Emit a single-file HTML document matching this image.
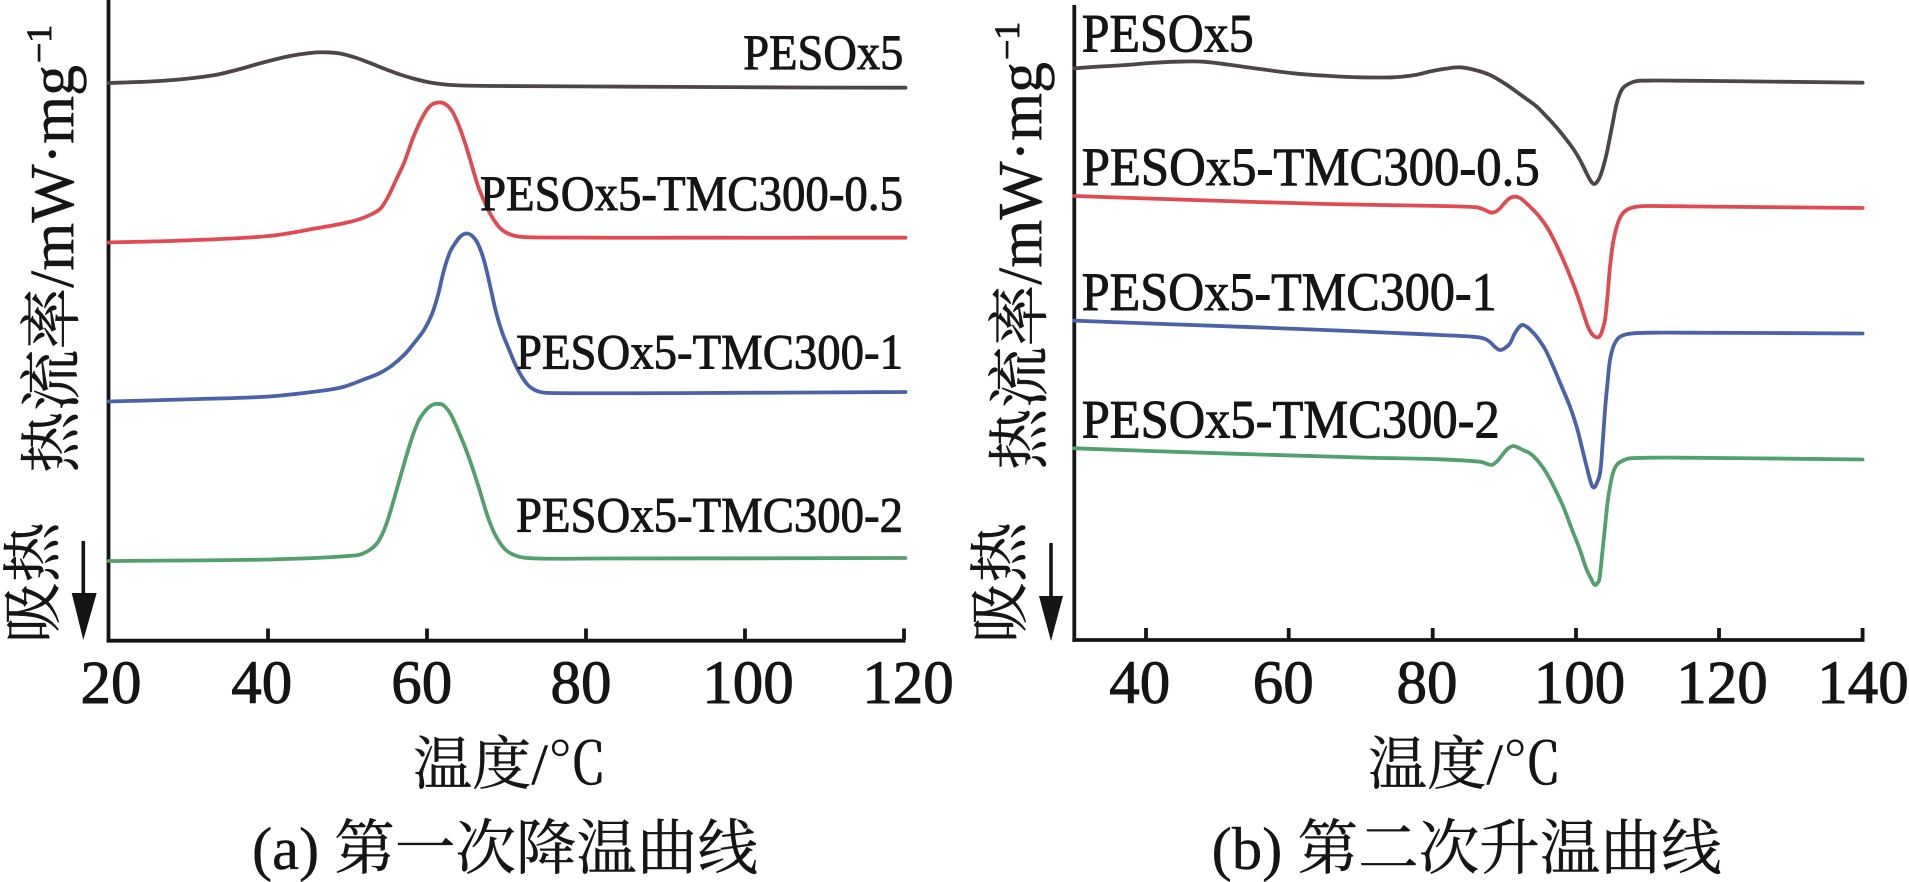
<!DOCTYPE html>
<html>
<head>
<meta charset="utf-8">
<style>
  html, body { margin:0; padding:0; background:#ffffff; }
  body { width:1909px; height:882px; overflow:hidden; }
  svg { display:block; }
  .lat { font-family: "Liberation Serif", "Noto Serif CJK SC", serif; fill:#151515; stroke:#151515; stroke-width:0.9; }
  .cjk { font-family: "Liberation Serif", "Noto Serif CJK SC", serif; fill:#151515; stroke:#151515; stroke-width:0.4; }
  .c { fill:none; stroke-width:3.8; stroke-linejoin:round; stroke-linecap:round; }
</style>
</head>
<body>
<svg id="fig" width="1909" height="882" viewBox="0 0 1909 882" xmlns="http://www.w3.org/2000/svg">
  <rect x="0" y="0" width="1909" height="882" fill="#ffffff"/>

  <!-- ================= LEFT PLOT (a) ================= -->
  <g stroke="#151515" stroke-width="3.8" fill="none">
    <line x1="108.5" y1="0" x2="108.5" y2="642.5"/>
    <line x1="106.6" y1="640.7" x2="905.5" y2="640.7"/>
    <line x1="268" y1="628.5" x2="268" y2="640"/>
    <line x1="427" y1="628.5" x2="427" y2="640"/>
    <line x1="586" y1="628.5" x2="586" y2="640"/>
    <line x1="745" y1="628.5" x2="745" y2="640"/>
    <line x1="904" y1="628.5" x2="904" y2="640"/>
  </g>

  <polyline class="c" stroke="#4d4646" points="108.5,83 150,81.5 184,79 215,75 240,69 265,62 290,56 310,53 325,52.3 340,53.5 355,57.5 370,63 385,69 400,74.5 415,79 430,82.5 445,84.5 463,85.5 500,86 600,86.5 700,87 800,87.5 905.5,87.7"/>
  <polyline class="c" stroke="#e04a50" points="108.5,242.5 184,240.5 269,236 318,228 345,223 360,219 372,214 381,208 389,195 396,180 404,163 413,138 422,118 430,106 438,102.5 445,104 452,111 459,126 466,146 472,166 478,186 485,203 492,217 500,228 508,233.5 518,236.5 540,237.5 700,237.7 905.5,237.7"/>
  <polyline class="c" stroke="#4a63a8" points="108.5,401.5 200,399 269,396.5 320,391 343,387 365,379 380,373 392,365.5 405,354 415,342 424,330 432,314 438,295 444,270 450,252 456,242 461,236 466,233.5 471,235 477,242 482,254 486,268 491,290 496,312 502,332 508,347 517,368 527,384 537,391 550,393 700,393 905.5,392"/>
  <polyline class="c" stroke="#52a06c" points="108.5,561 269,559.5 355,555.5 368,551 378,542 386,525 392,506 400,478 410,444 418,422 426,410 432,405 437,403.8 443,405 450,413 458,430 468,455 478,485 490,523 500,543 510,553 527,558 600,558.5 905.5,558"/>

  <text class="lat" x="743.3" y="69" font-size="50" textLength="160" lengthAdjust="spacingAndGlyphs">PESOx5</text>
  <text class="lat" x="480" y="210" font-size="50" textLength="423" lengthAdjust="spacingAndGlyphs">PESOx5-TMC300-0.5</text>
  <text class="lat" x="516" y="368.5" font-size="50" textLength="387" lengthAdjust="spacingAndGlyphs">PESOx5-TMC300-1</text>
  <text class="lat" x="516" y="531.5" font-size="50" textLength="387" lengthAdjust="spacingAndGlyphs">PESOx5-TMC300-2</text>

  <g class="lat" font-size="61" text-anchor="middle">
    <text x="111" y="703">20</text>
    <text x="261.7" y="703">40</text>
    <text x="421.7" y="703">60</text>
    <text x="581" y="703">80</text>
    <text x="748" y="703">100</text>
    <text x="908" y="703">120</text>
  </g>

  <g transform="translate(73,473) rotate(-90)">
    <text class="cjk" x="0" y="0" font-size="62" textLength="408" lengthAdjust="spacingAndGlyphs">热流率/mW·mg</text>
    <text class="lat" x="410" y="-22" font-size="36">−1</text>
  </g>
  <g transform="translate(54,643) rotate(-90)">
    <text class="cjk" x="0" y="0" font-size="60" textLength="121" lengthAdjust="spacingAndGlyphs">吸热</text>
  </g>
  <line x1="83.3" y1="541" x2="83.3" y2="600" stroke="#151515" stroke-width="3.6"/>
  <polygon points="71.7,593 96.7,593 83.3,640" fill="#151515"/>

  <text class="cjk" x="413" y="784" font-size="58" textLength="194" lengthAdjust="spacingAndGlyphs">温度/℃</text>
  <text class="cjk" x="252" y="869" font-size="60" textLength="506" lengthAdjust="spacingAndGlyphs">(a) 第一次降温曲线</text>

  <!-- ================= RIGHT PLOT (b) ================= -->
  <g stroke="#151515" stroke-width="3.8" fill="none">
    <line x1="1074.3" y1="5" x2="1074.3" y2="641.8"/>
    <line x1="1072.4" y1="640" x2="1864.5" y2="640"/>
    <line x1="1146" y1="628" x2="1146" y2="639"/>
    <line x1="1288.7" y1="628" x2="1288.7" y2="639"/>
    <line x1="1432.7" y1="628" x2="1432.7" y2="639"/>
    <line x1="1576" y1="628" x2="1576" y2="639"/>
    <line x1="1719" y1="628" x2="1719" y2="639"/>
    <line x1="1862.6" y1="628" x2="1862.6" y2="639"/>
  </g>

  <polyline class="c" stroke="#4d4646" points="1074.3,68.3 1100,66.5 1126.7,65 1150,63 1176.7,61.7 1203.3,61.7 1243.3,66.7 1293.3,73.3 1330,76 1360,77.3 1393.3,77.3 1415,75 1430,71.5 1445,68.8 1460,67.3 1475,70 1490,75 1507,85 1523.3,96.7 1536,106 1546.7,116.7 1557,128 1566.7,140 1574,150 1580,160 1585,170 1588.3,176.7 1591.5,182 1594,184 1597,182 1600,176.7 1603.5,166 1606.7,153.3 1610,137 1613.3,120 1616.5,104 1620,93.3 1623,88 1626.7,85 1633,82 1640,80.7 1680,80.7 1760,81.5 1862.6,82.7"/>
  <polyline class="c" stroke="#e04a50" points="1074.3,196 1193.3,200 1326.7,204 1440,206 1476.7,207.3 1483.3,209.3 1488,211.5 1491.7,212.7 1496,211.5 1500,208.3 1505,202.5 1510,198 1515,196.7 1520,198 1525,202 1530,206.7 1538,215 1546.7,226.7 1555,242 1563.3,260 1570,276 1576.7,293.3 1582,309 1586.7,323.3 1590,331 1594,336 1598.3,337.3 1601,334 1603,328 1605,320 1607.5,296 1610,266.7 1613,243 1616.7,226.7 1621,216 1626.7,210 1635,207 1646.7,206 1700,206.5 1862.6,208"/>
  <polyline class="c" stroke="#4a63a8" points="1074.3,320.6 1150,323.5 1255.8,327.3 1350,331 1440,335 1470,336.5 1483.3,338.3 1490,342 1495,347 1500,350 1505,348 1510,343.3 1515,333 1521.7,325 1527,327 1532,331.5 1536.7,336.7 1545,349 1553.3,366.7 1561,385 1570,406.7 1577,428 1583.3,453.3 1588,472 1591,483 1593.3,487.3 1596,485 1600,473.3 1602.5,445 1605,410 1607.5,383 1610,360 1614,345 1620,336.7 1633.3,333.3 1680,332.7 1862.6,333.5"/>
  <polyline class="c" stroke="#52a06c" points="1074.3,448.3 1150,451 1255.8,454.4 1360,457.5 1440,459.3 1480,461.7 1486,463.5 1491.7,465 1495,463 1498.3,460 1503,454 1508,448.5 1513.3,446 1519,448 1524,450.5 1530,453.3 1538,461 1546.7,473.3 1555,489 1563.3,506.7 1571,527 1580,550 1586,568 1591.7,580 1595,585 1597.5,583 1599.3,580 1602,556 1605,526.7 1607.5,503 1610,486.7 1613,473 1616.7,465 1622,461 1630,458.3 1680,457.7 1862.6,459.5"/>

  <text class="lat" x="1081.7" y="51.7" font-size="54" textLength="172" lengthAdjust="spacingAndGlyphs">PESOx5</text>
  <text class="lat" x="1081.7" y="185" font-size="54" textLength="458" lengthAdjust="spacingAndGlyphs">PESOx5-TMC300-0.5</text>
  <text class="lat" x="1081.7" y="310" font-size="54" textLength="415" lengthAdjust="spacingAndGlyphs">PESOx5-TMC300-1</text>
  <text class="lat" x="1081.7" y="437.5" font-size="54" textLength="418" lengthAdjust="spacingAndGlyphs">PESOx5-TMC300-2</text>

  <g class="lat" font-size="61" text-anchor="middle">
    <text x="1139.7" y="703">40</text>
    <text x="1283.3" y="703">60</text>
    <text x="1427" y="703">80</text>
    <text x="1579.5" y="703">100</text>
    <text x="1722" y="703">120</text>
    <text x="1863" y="703">140</text>
  </g>

  <g transform="translate(1041,470) rotate(-90)">
    <text class="cjk" x="0" y="0" font-size="62" textLength="408" lengthAdjust="spacingAndGlyphs">热流率/mW·mg</text>
    <text class="lat" x="410" y="-22" font-size="36">−1</text>
  </g>
  <g transform="translate(1021,643) rotate(-90)">
    <text class="cjk" x="0" y="0" font-size="60" textLength="121" lengthAdjust="spacingAndGlyphs">吸热</text>
  </g>
  <line x1="1051" y1="543" x2="1051" y2="602" stroke="#151515" stroke-width="3.6"/>
  <polygon points="1039,596 1063,596 1051,641" fill="#151515"/>

  <text class="cjk" x="1368" y="784" font-size="58" textLength="194" lengthAdjust="spacingAndGlyphs">温度/℃</text>
  <text class="cjk" x="1211.7" y="869" font-size="60" textLength="510" lengthAdjust="spacingAndGlyphs">(b) 第二次升温曲线</text>
</svg>
<script>
(function(){
  try {
    var NS = "http://www.w3.org/2000/svg";
    var pls = document.querySelectorAll("polyline.c");
    for (var k = 0; k < pls.length; k++) {
      var pl = pls[k];
      var raw = pl.getAttribute("points").trim().split(/\s+/);
      var P = raw.map(function(s){ var a = s.split(","); return [parseFloat(a[0]), parseFloat(a[1])]; });
      var n = P.length;
      function dist(a,b){ var dx=a[0]-b[0], dy=a[1]-b[1]; return Math.sqrt(dx*dx+dy*dy)||1e-6; }
      var T = [];
      for (var i = 0; i < n; i++) {
        var p0 = P[Math.max(0,i-1)], p2 = P[Math.min(n-1,i+1)];
        var d = dist(p0,p2);
        T.push([(p2[0]-p0[0])/d, (p2[1]-p0[1])/d]);
      }
      var dstr = "M" + P[0][0] + "," + P[0][1];
      for (var i = 0; i < n-1; i++) {
        var a = P[i], b = P[i+1];
        var L = dist(a,b)/3;
        var c1 = [a[0]+T[i][0]*L, a[1]+T[i][1]*L];
        var c2 = [b[0]-T[i+1][0]*L, b[1]-T[i+1][1]*L];
        dstr += " C" + c1[0].toFixed(2) + "," + c1[1].toFixed(2) + " " + c2[0].toFixed(2) + "," + c2[1].toFixed(2) + " " + b[0] + "," + b[1];
      }
      var path = document.createElementNS(NS, "path");
      path.setAttribute("d", dstr);
      path.setAttribute("class", "c");
      path.setAttribute("stroke", pl.getAttribute("stroke"));
      pl.parentNode.replaceChild(path, pl);
    }
  } catch(e) {}
})();
</script>
</body>
</html>
